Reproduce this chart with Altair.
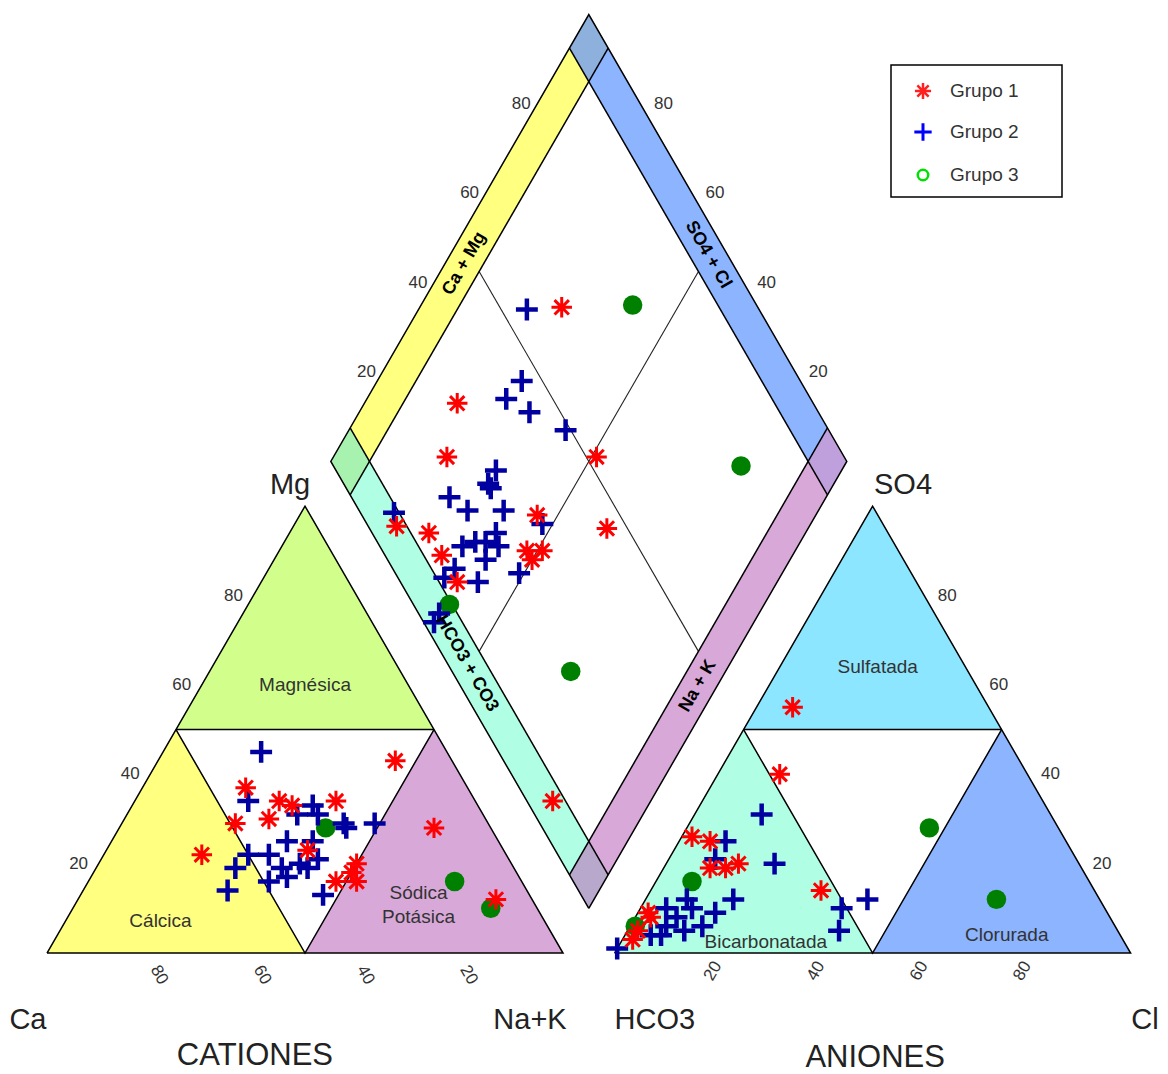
import altair as alt
import numpy as np
import pandas as pd

# ---------------- sample compositions (% of meq/L) ----------------
# Cation triangle: Mg and Na+K
cat_g1_mg = [22, 29, 37, 30, 34, 34, 43, 28, 23, 20, 16, 16, 18, 12, 33]
cat_g1_nak = [19, 22, 20, 28, 28, 39, 46, 61, 39, 50, 48, 52, 50, 81, 31]
cat_g2_mg = [45, 34, 33, 31, 31, 29, 28, 29, 25, 25, 22, 22, 19, 14, 16, 17, 19, 21, 13, 20, 19]
cat_g2_nak = [19, 22, 35, 33, 37, 43, 44, 49, 39, 34, 32, 28, 27, 28, 35, 38, 41, 42, 47, 39, 36]
cat_g3_mg = [28, 16, 10]
cat_g3_nak = [40, 71, 81]

# Anion triangle: SO4 and Cl
an_g1_so4 = [26, 25, 19, 19, 20, 14, 9, 3, 5, 8, 55, 40]
an_g1_cl = [2, 6, 9, 12, 14, 33, 2, 2, 2, 3, 7, 12]
an_g2_so4 = [31, 25, 21, 20, 12, 9, 12, 10, 10, 8, 6, 4, 1, 10, 12, 5, 6, 4, 5]
an_g2_cl = [13, 9, 9, 21, 17, 15, 8, 5, 10, 8, 14, 7, 0, 39, 43, 41, 7, 5, 11]
an_g3_so4 = [16, 6, 28, 12]
an_g3_cl = [7, 1, 47, 68]

# Diamond: Na+K (cations) and SO4+Cl (anions)
dia_g1_nak = [27.5, 18, 22, 51, 20, 46, 61, 27, 32, 38, 48, 51, 50, 81]
dia_g1_sc = [62, 31, 23, 52, 5.5, 34, 46, 11, 11, 11, 28, 31, 28, 5]
dia_g2_nak = [21, 28, 27, 33, 42, 33, 33, 34, 27, 32, 39, 18, 48, 40, 35, 37, 39, 42, 41, 36, 35, 42, 49, 38, 38]
dia_g2_sc = [55, 46, 41, 44, 49, 31, 28, 28, 19, 21, 28, 6.5, 34, 24, 16, 19, 21, 23, 19, 12, 9, 15, 24, 4, 2]
dia_g3_nak = [41, 80, 70, 39]
dia_g3_sc = [76, 79, 23, 7]

groups = ["Grupo 1", "Grupo 2", "Grupo 3"]
ticks = [20, 40, 60, 80]

# ---------------- Piper geometry (triangle side = 100) ----------------
K = np.sqrt(3) / 2
H = 100 * K
GAP = 10
W = 0.075  # width of the diamond bands, fraction of the side
PX = 5.16  # pixels per unit


def P(x, y):
    return np.array([x, y], float)


B = P(105, GAP * K)
L = B + P(-50, H)
T = B + P(0, 2 * H)
R = B + P(50, H)


def cation_xy(mg, nak):
    return nak + mg / 2, mg * K


def anion_xy(so4, cl):
    return 110 + cl + so4 / 2, so4 * K


def diamond_xy(nak, sc):
    p = L + nak / 100 * (B - L) + sc / 100 * (T - L)
    return p[0], p[1]


rows = []
for g, mg, nak in zip(groups, [cat_g1_mg, cat_g2_mg, cat_g3_mg], [cat_g1_nak, cat_g2_nak, cat_g3_nak]):
    for a, b in zip(mg, nak):
        x, y = cation_xy(a, b)
        rows.append(dict(group=g, x=x, y=y))
for g, so4, cl in zip(groups, [an_g1_so4, an_g2_so4, an_g3_so4], [an_g1_cl, an_g2_cl, an_g3_cl]):
    for a, b in zip(so4, cl):
        x, y = anion_xy(a, b)
        rows.append(dict(group=g, x=x, y=y))
for g, nak, sc in zip(groups, [dia_g1_nak, dia_g2_nak, dia_g3_nak], [dia_g1_sc, dia_g2_sc, dia_g3_sc]):
    for a, b in zip(nak, sc):
        x, y = diamond_xy(a, b)
        rows.append(dict(group=g, x=x, y=y))
pts = pd.DataFrame(rows)


def poly_rows(name, verts):
    """Convex polygon -> (x, lower y, upper y) rows for an area mark."""
    verts = [np.asarray(v, float) for v in verts]
    xs = sorted(set(round(v[0], 6) for v in verts))
    out = []
    n = len(verts)
    for x in xs:
        ys = []
        for i in range(n):
            (x1, y1), (x2, y2) = verts[i], verts[(i + 1) % n]
            if min(x1, x2) - 1e-6 <= x <= max(x1, x2) + 1e-6:
                if abs(x2 - x1) < 1e-9:
                    ys += [y1, y2]
                else:
                    ys.append(y1 + (y2 - y1) * (x - x1) / (x2 - x1))
        out.append(dict(region=name, x=x, ylo=min(ys), yhi=max(ys)))
    return out


def tri_regions(x0, names):
    a, b, c = P(x0, 0), P(x0 + 100, 0), P(x0 + 50, H)
    m_l, m_r, m_b = P(x0 + 25, H / 2), P(x0 + 75, H / 2), P(x0 + 50, 0)
    return (poly_rows(names[0], [m_l, c, m_r])
            + poly_rows(names[1], [a, m_b, m_l])
            + poly_rows(names[2], [m_b, b, m_r]))


tri_df = pd.DataFrame(tri_regions(0, ["mag", "cal", "sod"]) + tri_regions(110, ["sul", "bic", "clo"]))
tri_colors = {"mag": "#D2FF8C", "cal": "#FFFF80", "sod": "#D8A8D8",
              "sul": "#8CE6FF", "bic": "#B0FFE4", "clo": "#8CB4FF"}

band_df = pd.DataFrame(
    poly_rows("camg", [L, T, T + W * (R - T), L + W * (B - L)])
    + poly_rows("so4cl", [T, R, R + W * (B - R), T + W * (L - T)])
    + poly_rows("hco3", [L, B, B + W * (R - B), L + W * (T - L)])
    + poly_rows("nak", [B, R, R + W * (T - R), B + W * (L - B)])
)
band_colors = {"camg": "#FFFF80", "so4cl": "#8CB4FF", "hco3": "#B0FFE4", "nak": "#D8A8D8"}

corner_df = pd.DataFrame(
    poly_rows("top", [T, T + W * (R - T), T + W * (R - T) + W * (L - T), T + W * (L - T)])
    + poly_rows("left", [L, L + W * (T - L), L + W * (T - L) + W * (B - L), L + W * (B - L)])
    + poly_rows("right", [R, R + W * (T - R), R + W * (T - R) + W * (B - R), R + W * (B - R)])
    + poly_rows("bottom", [B, B + W * (L - B), B + W * (L - B) + W * (R - B), B + W * (R - B)])
)
corner_colors = {"top": "#8EB0DC", "left": "#A8F2B0", "right": "#C0A0DC", "bottom": "#B8A8CC"}

# outlines
segs = []


def seg(name, *pts_):
    for k, p in enumerate(pts_):
        segs.append(dict(lid=name, k=k, x=p[0], y=p[1]))


for x0, tag in [(0, "c"), (110, "a")]:
    a, b, c = P(x0, 0), P(x0 + 100, 0), P(x0 + 50, H)
    m_l, m_r, m_b = P(x0 + 25, H / 2), P(x0 + 75, H / 2), P(x0 + 50, 0)
    seg(tag + "out", a, b, c, a)
    seg(tag + "mid", m_l, m_r)
    seg(tag + "inv", m_l, m_b, m_r)
seg("dia", B, L, T, R, B)
seg("b1", L + W * (B - L), T + W * (R - T))
seg("b2", T + W * (L - T), R + W * (B - R))
seg("b3", L + W * (T - L), B + W * (R - B))
seg("b4", B + W * (L - B), R + W * (T - R))
seg_df = pd.DataFrame(segs)

m1, m2 = (L + T) / 2, (B + R) / 2
m3, m4 = (T + R) / 2, (L + B) / 2
mid_df = pd.DataFrame([
    dict(lid="d1", k=0, x=(m1 + W * (m2 - m1))[0], y=(m1 + W * (m2 - m1))[1]),
    dict(lid="d1", k=1, x=(m2 - W * (m2 - m1))[0], y=(m2 - W * (m2 - m1))[1]),
    dict(lid="d2", k=0, x=(m3 + W * (m4 - m3))[0], y=(m3 + W * (m4 - m3))[1]),
    dict(lid="d2", k=1, x=(m4 - W * (m4 - m3))[0], y=(m4 - W * (m4 - m3))[1]),
])

# ---------------- scales ----------------
xs = alt.Scale(domain=[-47 / PX, (1168 - 47) / PX], nice=False, zero=False)
ys = alt.Scale(domain=[(953 - 1074) / PX, 953 / PX], nice=False, zero=False)
X = lambda f="x": alt.X(f"{f}:Q", scale=xs, axis=None)
Y = lambda f="y": alt.Y(f"{f}:Q", scale=ys, axis=None)
FONT = "Liberation Sans"


def areas(df, colors):
    return alt.Chart(df).mark_area(orient="vertical", strokeWidth=0).encode(
        x=X(), y=alt.Y("ylo:Q", scale=ys, axis=None, stack=None), y2="yhi:Q",
        color=alt.Color("region:N", scale=alt.Scale(domain=list(colors), range=list(colors.values())), legend=None),
    )


fills = alt.layer(
    areas(tri_df, tri_colors),
    areas(band_df, band_colors),
    areas(corner_df, corner_colors),
).resolve_scale(color="independent")

outline_layer = alt.Chart(seg_df).mark_line(color="black", strokeWidth=1.5).encode(
    x=X(), y=Y(), detail="lid:N", order="k:Q")
mid_layer = alt.Chart(mid_df).mark_line(color="#222222", strokeWidth=1.1).encode(
    x=X(), y=Y(), detail="lid:N", order="k:Q")

ASTER = "M-1,0L1,0M0,-1L0,1M-0.7,-0.7L0.7,0.7M-0.7,0.7L0.7,-0.7"
PLUS = "M-1,0L1,0M0,-1L0,1"

g3_layer = alt.Chart(pts[pts.group == "Grupo 3"]).mark_circle(size=380, color="#008000", opacity=1).encode(x=X(), y=Y())
g2_layer = alt.Chart(pts[pts.group == "Grupo 2"]).mark_point(
    shape=PLUS, size=480, color="#0000A0", strokeWidth=4.5, filled=False, opacity=1).encode(x=X(), y=Y())
g1_layer = alt.Chart(pts[pts.group == "Grupo 1"]).mark_point(
    shape=ASTER, size=420, color="#FF0000", strokeWidth=3, filled=False, opacity=1).encode(x=X(), y=Y())


def text_layer(df, **kw):
    base = dict(font=FONT, align="center", baseline="middle")
    base.update(kw)
    return alt.Chart(df).mark_text(**base).encode(x=X(), y=Y(), text="t:N")


def tdf(items):
    return pd.DataFrame([dict(t=t, x=x, y=y) for t, x, y in items])


# tick labels
o = 1 / PX
lab_left = tdf([(str(v), v / 2 - 20 * o, v * K) for v in ticks])
lab_bottom_c = tdf([(str(v), 100 - v + 9 * o, -22 * o) for v in ticks])
lab_right = tdf([(str(v), 110 + 100 - v / 2 + 23 * o, v * K) for v in ticks])
lab_bottom_a = tdf([(str(v), 110 + v - 5 * o, -18 * o) for v in ticks])
lab_dia_l = tdf([(str(v), (L + v / 100 * (T - L))[0] - 16 * o, (L + v / 100 * (T - L))[1]) for v in ticks])
lab_dia_r = tdf([(str(v), (R + v / 100 * (T - R))[0] + 23 * o, (R + v / 100 * (T - R))[1]) for v in ticks])

tick_layers = [
    text_layer(lab_left, fontSize=17, color="#333333"),
    text_layer(lab_right, fontSize=17, color="#333333"),
    text_layer(lab_dia_l, fontSize=17, color="#333333"),
    text_layer(lab_dia_r, fontSize=17, color="#333333"),
    text_layer(lab_bottom_c, fontSize=17, color="#333333", angle=60),
    text_layer(lab_bottom_a, fontSize=17, color="#333333", angle=300),
]


# band titles along the diamond edges
def band_mid(p0, p1, q0, q1, f=0.48):
    a = p0 + (W / 2) * (q0 - p0)
    b = p1 + (W / 2) * (q1 - p1)
    m = a + f * (b - a)
    return m[0], m[1]


bx = [
    ("Ca + Mg", band_mid(L, T, B, R), 300),
    ("SO4 + Cl", band_mid(T, R, L, B, 0.5), 60),
    ("HCO3 + CO3", band_mid(L, B, T, R, 0.49), 60),
    ("Na + K", band_mid(B, R, L, T, 0.46), 300),
]
band_text = [text_layer(tdf([(t, p[0], p[1])]), fontSize=18, fontWeight="bold", color="black", angle=a)
             for t, p, a in bx]

region_text = text_layer(tdf([
    ("Magnésica", 50, 0.6 * H),
    ("Cálcica", 22, 6.2),
    ("Sódica", 72, 11.6),
    ("Potásica", 72, 7.0),
    ("Sulfatada", 161, 0.64 * H),
    ("Bicarbonatada", 139.3, 2.1),
    ("Clorurada", 186, 3.5),
]), fontSize=19, color="#333333")

corner_text = text_layer(tdf([
    ("Mg", 47.1, 90.7), ("Ca", -3.7, -13), ("Na+K", 93.6, -13),
    ("SO4", 165.9, 90.7), ("HCO3", 117.8, -13), ("Cl", 212.8, -13),
]), fontSize=29, color="#222222")
title_text = text_layer(tdf([("CATIONES", 40.3, -19.9), ("ANIONES", 160.5, -20.4)]), fontSize=31, color="#222222")

# legend box
leg_box = alt.Chart(pd.DataFrame([dict(x=(891 - 47) / PX, x2=(1062 - 47) / PX,
                                       y=(953 - 65) / PX, y2=(953 - 197) / PX)])).mark_rect(
    fill="white", stroke="black", strokeWidth=1.5).encode(x=X(), x2="x2:Q", y=Y(), y2="y2:Q")
leg_y = [(953 - 91) / PX, (953 - 132) / PX, (953 - 175) / PX]
leg_sx = (923 - 47) / PX
leg_tx = (950 - 47) / PX
leg_text = text_layer(tdf([(g, leg_tx, yy) for g, yy in zip(groups, leg_y)]), fontSize=19, color="#333333", align="left")
leg_s1 = alt.Chart(tdf([("", leg_sx, leg_y[0])])).mark_point(
    shape=ASTER, size=260, color="#FF2020", strokeWidth=2.5, filled=False, opacity=1).encode(x=X(), y=Y())
leg_s2 = alt.Chart(tdf([("", leg_sx, leg_y[1])])).mark_point(
    shape=PLUS, size=300, color="#0000FF", strokeWidth=3, filled=False, opacity=1).encode(x=X(), y=Y())
leg_s3 = alt.Chart(tdf([("", leg_sx, leg_y[2])])).mark_point(
    shape="circle", size=110, color="#00E000", strokeWidth=2.5, filled=False, opacity=1).encode(x=X(), y=Y())

chart = alt.layer(
    fills, mid_layer, outline_layer,
    g3_layer, g2_layer, g1_layer,
    *tick_layers, *band_text, region_text, corner_text, title_text,
    leg_box, leg_s1, leg_s2, leg_s3, leg_text,
).properties(width=1168, height=1074, padding=0, autosize="none", background="white"
).configure_view(stroke=None)

chart.save("out.html", embed_options={"renderer": "svg", "actions": False})
